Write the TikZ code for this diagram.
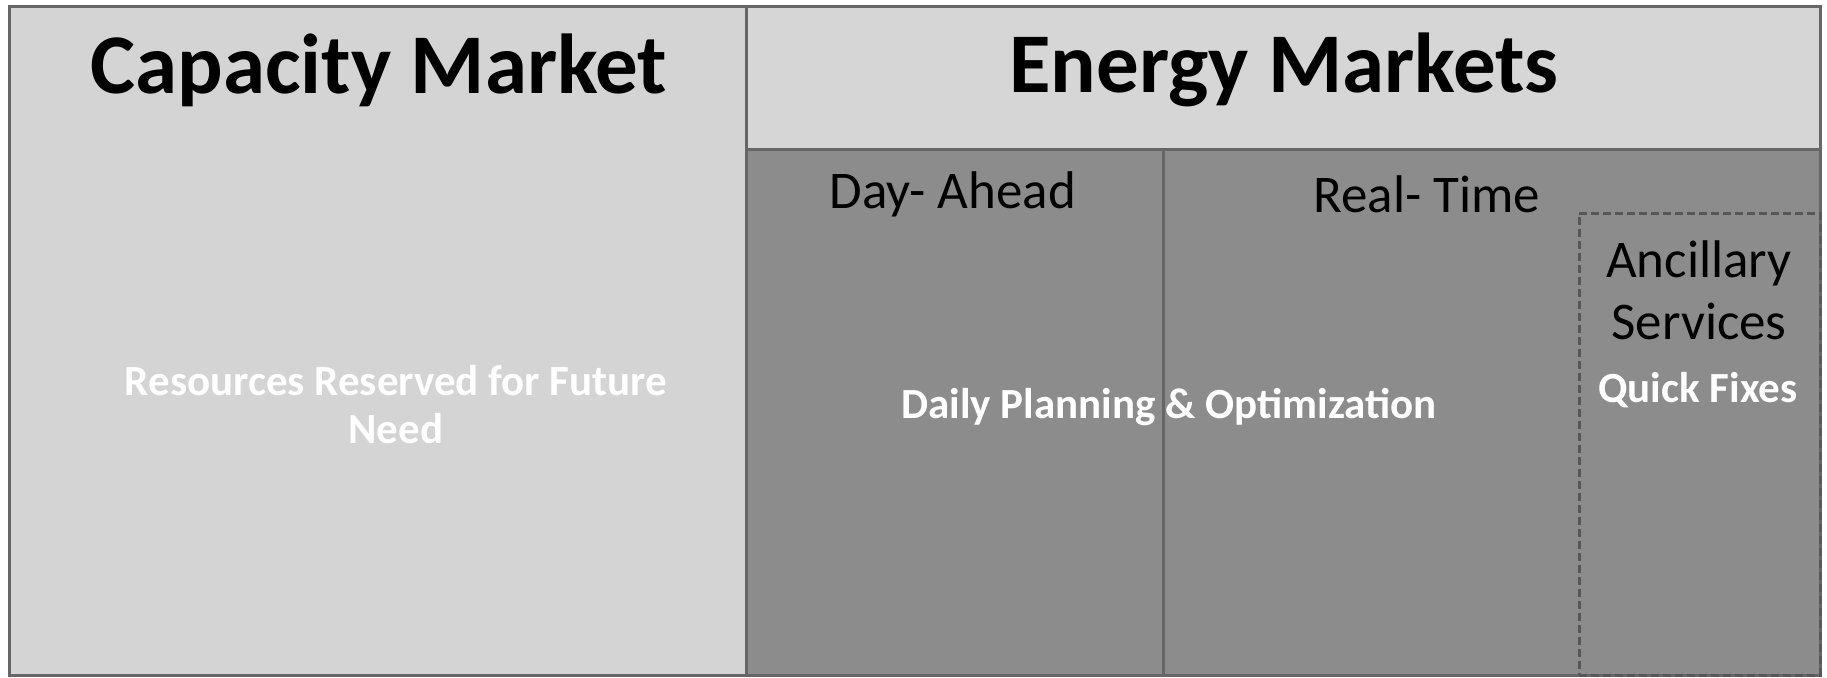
\documentclass[tikz,border=0pt]{standalone}
\usepackage{fontspec}
\setmainfont{Carlito}
\definecolor{capfill}{HTML}{D4D4D4}
\definecolor{hdrfill}{HTML}{D6D6D6}
\definecolor{bodyfill}{HTML}{8C8C8C}
\definecolor{edgecol}{HTML}{666666}
\tikzset{
  panel/.style={draw=edgecol, line width=3pt, anchor=north west, inner sep=0pt, outer sep=0pt},
  title/.style={font=\bfseries\fontsize{85}{95}\selectfont, text=black},
  sub/.style={font=\fontsize{53}{62}\selectfont, text=black, align=center},
  wtext/.style={font=\bfseries\fontsize{43}{48}\selectfont, text=white, align=center},
}
\begin{document}
\begin{tikzpicture}[x=1pt,y=-1pt]
\useasboundingbox (0,0) rectangle (1827,677);
\node[panel, fill=capfill, minimum width=737pt, minimum height=668pt] (cap) at (9,7) {};
\node[panel, fill=hdrfill, minimum width=1074pt, minimum height=142pt] (hdr) at (746,7) {};
\node[panel, fill=bodyfill, minimum width=417pt, minimum height=526pt] (da) at (746,149) {};
\node[panel, fill=bodyfill, minimum width=657pt, minimum height=526pt] (rt) at (1163,149) {};
\node[panel, dashed, draw=edgecol!85!black, dash pattern=on 8pt off 4pt, line width=3pt, minimum width=241pt, minimum height=462pt] (anc) at (1579,213) {};
\node[title] (capt) at (379,70) {Capacity Market};
\node[title] (enet) at (1284,70) {Energy Markets};
\node[sub] (dat) at (953,194) {Day- Ahead};
\node[sub] (rtt) at (1427,194) {Real- Time};
\node[sub] (anct) at (1699,290) {Ancillary\\Services};
\node[wtext] (qf) at (1698,390) {Quick Fixes};
\node[wtext] (dpo) at (1169,407) {Daily Planning \& Optimization};
\node[wtext] (res) at (396,405) {Resources Reserved for Future\\Need};
\end{tikzpicture}
\end{document}
